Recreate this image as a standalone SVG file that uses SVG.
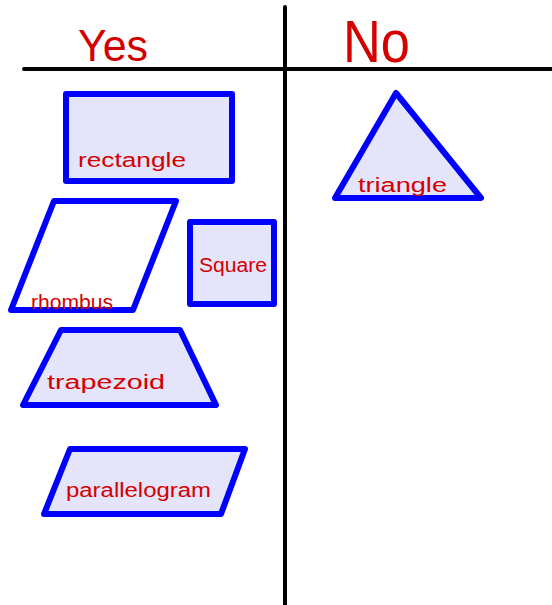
<svg xmlns="http://www.w3.org/2000/svg" width="552" height="605" viewBox="0 0 552 605">
<style>
.shape{fill:#e4e4fa;stroke:#0000ff;stroke-width:6;stroke-linejoin:round}
.open{fill:#ffffff}
.lbl{fill:#d40000;font-family:"Liberation Sans",Arial,sans-serif;font-size:20px}
.head{fill:#d40000;font-family:"Liberation Sans",Arial,sans-serif}
.rule{stroke:#000;stroke-width:4;stroke-linecap:round}
</style>
<rect width="552" height="605" fill="#fff"/>
<g id="chart-lines">
<line class="rule" x1="24" y1="69" x2="552" y2="69"/>
<line class="rule" x1="285" y1="7" x2="285" y2="605"/>
</g>
<g id="yes-heading"><text class="head" x="78" y="61" font-size="44" textLength="70" lengthAdjust="spacingAndGlyphs">Yes</text></g>
<g id="no-heading"><text class="head" x="343" y="62" font-size="60" textLength="67" lengthAdjust="spacingAndGlyphs">No</text></g>
<g id="rectangle">
<rect class="shape" x="66" y="94" width="166" height="87"/>
<text class="lbl" x="78" y="167" textLength="108" lengthAdjust="spacingAndGlyphs">rectangle</text>
</g>
<g id="rhombus">
<polygon class="shape open" points="54,201 176,201 133,310 11,310"/>
<text class="lbl" x="31" y="309" textLength="82" lengthAdjust="spacingAndGlyphs">rhombus</text>
</g>
<g id="square">
<rect class="shape" x="190" y="222" width="84" height="82"/>
<text class="lbl" x="199" y="272" textLength="68" lengthAdjust="spacingAndGlyphs">Square</text>
</g>
<g id="trapezoid">
<polygon class="shape" points="61,330 180,330 216,405 23,405"/>
<text class="lbl" x="47" y="389" textLength="118" lengthAdjust="spacingAndGlyphs">trapezoid</text>
</g>
<g id="parallelogram">
<polygon class="shape" points="70,449 245,449 221,514 44,514"/>
<text class="lbl" x="66" y="497" textLength="145" lengthAdjust="spacingAndGlyphs">parallelogram</text>
</g>
<g id="triangle">
<polygon class="shape" points="396,93 481,198 335,198"/>
<text class="lbl" x="358" y="192" textLength="89" lengthAdjust="spacingAndGlyphs">triangle</text>
</g>
</svg>
